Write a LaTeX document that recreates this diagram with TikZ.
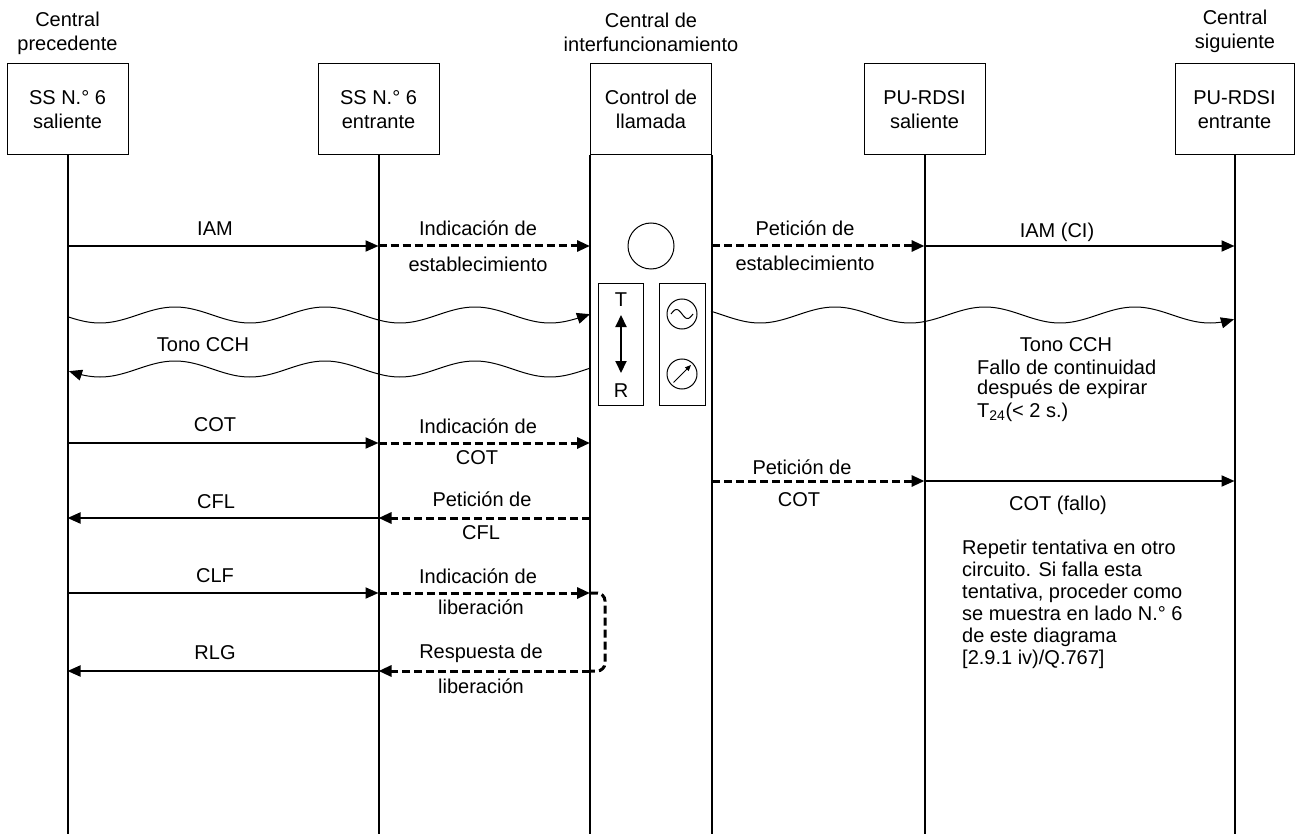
\documentclass[tikz,border=0pt]{standalone}
\usepackage{fontspec}
\setmainfont{Liberation Sans}
\usetikzlibrary{arrows.meta}
\begin{document}
\begin{tikzpicture}[x=1pt,y=-1pt,
  font=\fontsize{20}{24}\selectfont,
  hdr/.style={draw, line width=1pt, minimum width=121pt, minimum height=91pt, align=center, inner sep=0pt},
  toplbl/.style={align=center, inner sep=0pt},
  lbl/.style={inner sep=0pt, align=center},
  life/.style={line width=2pt},
  colline/.style={line width=1.2pt},
  tip/.tip={Triangle[length=13pt,width=11pt]},
  msg/.style={line width=2pt, -tip},
  dmsg/.style={line width=3pt, dash pattern=on 8pt off 4pt, -tip},
  wave/.style={line width=1pt},
  thinbox/.style={draw, line width=1pt, inner sep=0pt}]
\useasboundingbox (0,0) rectangle (1295,834);
\fill[white] (0,0) rectangle (1295,834);

% titles
\node[toplbl] (tA) at (67.5,33) {Central\\precedente};
\node[toplbl] (tC) at (651,32) {Central de\\interfuncionamiento};
\node[toplbl] (tE) at (1235,31) {Central\\siguiente};

% header boxes
\node[hdr] (A) at (67.5,109.5) {SS N.° 6\\saliente};
\node[hdr] (B) at (378.5,109.5) {SS N.° 6\\entrante};
\node[hdr] (C) at (651,109.5) {Control de\\llamada};
\node[hdr] (D) at (924.5,109.5) {PU-RDSI\\saliente};
\node[hdr, minimum width=119pt] (E) at (1234.5,109.5) {PU-RDSI\\entrante};

\coordinate (bot) at (0,834);
\draw[life] (A.south) -- (A.south |- bot);
\draw[life] (B.south) -- (B.south |- bot);
\draw[life] (D.south) -- (D.south |- bot);
\draw[life] (E.south) -- (E.south |- bot);
\draw[colline] (C.south west) -- (C.south west |- bot);
\draw[colline] (C.south east) -- (C.south east |- bot);

% row coordinates
\coordinate (r1) at (0,246);
\coordinate (r2) at (0,443);
\coordinate (r3) at (0,481);
\coordinate (r4) at (0,518);
\coordinate (r5) at (0,593);
\coordinate (r6) at (0,671);

% row 1
\draw[msg] (A |- r1) -- (B |- r1);
\draw[dmsg] (B |- r1) -- (C.south west |- r1);
\draw[dmsg] (C.south east |- r1) -- (D |- r1);
\draw[msg] (D |- r1) -- (E |- r1);
\node[lbl] (l1a) at (215,229) {IAM};
\node[lbl] (l1b) at (478,228) {Indicación de};
\node[lbl] (l1c) at (478,264) {establecimiento};
\node[lbl] (l1d) at (805,228) {Petición de};
\node[lbl] (l1e) at (805,263) {establecimiento};
\node[lbl] (l1f) at (1057,232) {IAM (CI)};

% central symbols
\node[circle, draw, line width=1pt, minimum size=46pt, inner sep=0pt] (circ) at (651,246) {};
\node[thinbox, minimum width=45pt, minimum height=122pt] (TR) at (620.5,344) {};
\node[thinbox, minimum width=46pt, minimum height=122pt] (SM) at (682,344) {};
\node[lbl] (T) at (621,300) {T};
\node[lbl] (R) at (621,391) {R};
\draw[line width=2pt, {Triangle[length=12pt,width=11pt]}-{Triangle[length=12pt,width=11pt]}] (621,315) -- (621,373);
\node[circle, draw, line width=1pt, minimum size=30pt, inner sep=0pt] (sine) at (682,314) {};
\draw[line width=1pt] plot[domain=671:693, samples=40, smooth] (\x, {314-4.5*sin(16.3636*(\x-671))});
\node[circle, draw, line width=1pt, minimum size=30pt, inner sep=0pt] (meter) at (682,374) {};
\draw[line width=1pt, -{Triangle[length=6pt,width=5pt]}] (673.5,382.5) -- (691,365);

% waves
\draw[wave, -tip] plot[domain=68:590, samples=220, smooth] (\x, {315+8*cos(2.4*(\x-100))});
\draw[wave, tip-] plot[domain=69:590, samples=220, smooth] (\x, {369+8*cos(2.4*(\x-100))});
\draw[wave, -tip] plot[domain=711:1234, samples=220, smooth] (\x, {315+8*cos(2.4*(\x-760))});
\node[lbl] (l2a) at (203,345) {Tono CCH};
\node[lbl] (l2b) at (1066,345) {Tono CCH};
\node[lbl, anchor=west] (l2c) at (977,367) {Fallo de continuidad};
\node[lbl, anchor=west] (l2d) at (977,389) {después de expirar};
\node[lbl, anchor=west] (l2e) at (977,412) {T\textsubscript{24}(< 2 s.)};

% row 2: COT
\draw[msg] (A |- r2) -- (B |- r2);
\draw[dmsg] (B |- r2) -- (C.south west |- r2);
\node[lbl] (l3a) at (215,425) {COT};
\node[lbl] (l3b) at (478,426) {Indicación de};
\node[lbl] (l3c) at (477,458) {COT};

% row 3: Peticion COT
\draw[dmsg] (C.south east |- r3) -- (D |- r3);
\draw[msg] (D |- r3) -- (E |- r3);
\node[lbl] (l4a) at (802,467) {Petición de};
\node[lbl] (l4b) at (799,500) {COT};
\node[lbl] (l4c) at (1058,505) {COT (fallo)};
\node[lbl, anchor=north west, align=left, font=\fontsize{20}{22}\selectfont] (l4d) at (962,540)
  {Repetir tentativa en otro\\circuito. Si falla esta\\tentativa, proceder como\\se muestra en lado N.° 6\\de este diagrama\\{[2.9.1 iv)/Q.767]}};

% row 4: CFL
\draw[dmsg] (C.south west |- r4) -- (B |- r4);
\draw[msg] (B |- r4) -- (A |- r4);
\node[lbl] (l5a) at (216,502) {CFL};
\node[lbl] (l5b) at (482,499) {Petición de};
\node[lbl] (l5c) at (481,533) {CFL};

% row 5: CLF
\draw[msg] (A |- r5) -- (B |- r5);
\draw[dmsg] (B |- r5) -- (C.south west |- r5);
\node[lbl] (l6a) at (215,576) {CLF};
\node[lbl] (l6b) at (478,576) {Indicación de};
\node[lbl] (l6c) at (481,607) {liberación};

% bracket
\draw[line width=3pt, dash pattern=on 8pt off 4pt, rounded corners=8pt]
  (C.south west |- r5) -- (605,593) -- (605,671) -- (C.south west |- r6);

% row 6: RLG
\draw[dmsg] (C.south west |- r6) -- (B |- r6);
\draw[msg] (B |- r6) -- (A |- r6);
\node[lbl] (l7a) at (215,653) {RLG};
\node[lbl] (l7b) at (481,653) {Respuesta de};
\node[lbl] (l7c) at (481,686) {liberación};
\end{tikzpicture}
\end{document}
